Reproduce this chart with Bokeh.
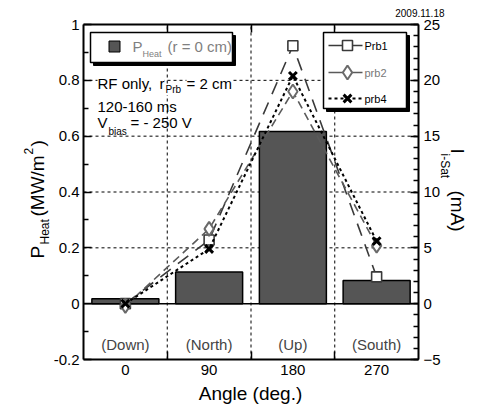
import math
from bokeh.plotting import figure
from bokeh.models import (Range1d, LinearAxis, FixedTicker, Label,
                          CustomJSTickFormatter)
from bokeh.embed import file_html
from bokeh.resources import INLINE

# ---------------- data ----------------
angles = [0, 90, 180, 270]
categories = ["(Down)", "(North)", "(Up)", "(South)"]
p_heat = [0.018, 0.113, 0.617, 0.083]          # MW/m^2
prb1 = [0.0, 5.7, 23.1, 2.4]                   # mA
prb2 = [-0.2, 6.7, 19.0, 5.2]                  # mA
prb4 = [0.0, 4.9, 20.4, 5.6]                   # mA
left_ticks = [-0.2, 0, 0.2, 0.4, 0.6, 0.8, 1]
right_ticks = [-5, 0, 5, 10, 15, 20, 25]
hgrid = [0.2, 0.4, 0.6, 0.8]
boundaries = [45, 135, 225]

FONT = "Liberation Sans"
W, H = 477, 407
# pixel box of the data region, and its data extent
L, R, T, B = 83, 418, 24, 359
X0, X1, Y0, Y1 = -45, 315, -0.2, 1.0
I0, I1 = -5, 25
SCALE = (I1 - I0) / (Y1 - Y0)


def dx(px):
    return X0 + (px - L) * (X1 - X0) / (R - L)


def dy(py):
    return Y1 - (py - T) * (Y1 - Y0) / (B - T)


# the frame covers the whole canvas; axes are pinned at the data box edges
p = figure(width=W, height=H, x_range=Range1d(dx(0), dx(W)),
           y_range=Range1d(dy(H), dy(0)),
           output_backend="svg", toolbar_location=None, title=None,
           min_border=0, x_axis_type=None, y_axis_type=None)
p.extra_y_ranges = {"isat": Range1d(dy(H) * SCALE, dy(0) * SCALE)}
p.outline_line_color = None
p.background_fill_color = "white"
p.border_fill_color = "white"
p.xgrid.visible = False
p.ygrid.visible = False

# dashed grid and zero line
p.segment(x0=boundaries, x1=boundaries, y0=Y0, y1=Y1, line_color="black",
          line_dash="3 3", line_width=1)
p.segment(x0=X0, x1=X1, y0=hgrid, y1=hgrid, line_color="black",
          line_dash="3 3", line_width=1)
p.segment(x0=[X0], x1=[X1], y0=[0], y1=[0], line_color="black", line_width=1.5)


def style_axis(ax):
    ax.axis_line_width = 2
    ax.axis_line_color = "black"
    ax.major_label_text_font = FONT
    ax.major_label_text_font_size = "15px"
    ax.major_label_text_color = "black"
    ax.major_tick_line_color = "black"
    ax.minor_tick_line_color = "black"
    ax.major_tick_line_width = 1.5
    ax.minor_tick_line_width = 1.5
    ax.major_tick_out = 0
    ax.minor_tick_out = 0


# bottom axis
xa = LinearAxis(ticker=FixedTicker(ticks=angles, minor_ticks=boundaries),
                fixed_location=Y0, bounds=(X0, X1))
style_axis(xa)
xa.major_tick_in = 0
xa.minor_tick_in = 8
xa.major_label_standoff = 5
p.add_layout(xa, "below")

# top axis (tick marks only)
ta = LinearAxis(ticker=FixedTicker(ticks=[], minor_ticks=boundaries),
                fixed_location=Y1, bounds=(X0, X1))
style_axis(ta)
ta.minor_tick_in = 8
p.add_layout(ta, "above")

# left axis
ya = LinearAxis(ticker=FixedTicker(ticks=left_ticks,
                                   minor_ticks=[-0.1, 0.1, 0.3, 0.5, 0.7, 0.9]),
                fixed_location=X0, bounds=(Y0, Y1))
ya.formatter = CustomJSTickFormatter(code="return String(tick)")
style_axis(ya)
ya.major_tick_in = 8
ya.minor_tick_in = 5
ya.major_label_standoff = 4
p.add_layout(ya, "left")

# right axis
ra = LinearAxis(y_range_name="isat",
                ticker=FixedTicker(ticks=right_ticks,
                                   minor_ticks=list(range(I0, I1 + 1))),
                fixed_location=X1, bounds=(I0, I1))
style_axis(ra)
ra.major_tick_in = 8
ra.minor_tick_in = 5
ra.major_label_standoff = 5
p.add_layout(ra, "right")

# bars
p.vbar(x=angles, top=p_heat, bottom=0, width=72, fill_color="#555555",
       line_color="black", line_width=1.5)

# probe series
series = [
    (prb1, "#3a3a3a", "13 9", 1.6, "square", 10, "#3a3a3a", 1.6),
    (prb2, "#5a5a5a", "8 5", 1.6, "diamond", 14, "#6a6a6a", 2.0),
    (prb4, "black", "3 3", 2.0, "x", 11, "black", 3.0),
]
for vals, col, dash, lw, mk, ms, mcol, mlw in series:
    p.line(angles, vals, y_range_name="isat", line_color=col, line_dash=dash,
           line_width=lw)
    p.scatter(angles, vals, y_range_name="isat", marker=mk, size=ms,
              fill_color="white", line_color=mcol, line_width=mlw)


# ---------------- legends and texts (decorations) ----------------
def box(x0, y0, x1, y1):
    p.quad(left=dx(x0 + 3), right=dx(x1 + 3), top=dy(y0 + 3), bottom=dy(y1 + 3),
           fill_color="black", line_color="black")
    p.quad(left=dx(x0), right=dx(x1), top=dy(y0), bottom=dy(y1),
           fill_color="white", line_color="black", line_width=1.5)


def lab(text, px, py, size, color="black", align="left", base="middle",
        angle=0.0, bg=None):
    p.add_layout(Label(x=dx(px), y=dy(py), text=text, text_font=FONT,
                       text_font_size=f"{size}px", text_color=color,
                       text_align=align, text_baseline=base, angle=angle,
                       background_fill_color=bg))


# legend 1
box(90, 32, 232, 62)
p.scatter([dx(114)], [dy(46)], marker="square", size=11,
          fill_color="#555555", line_color="black", line_width=1)
lab("P", 132, 46, 15, color="#808080")
lab("Heat", 142, 53, 9, color="#808080")
lab("(r = 0 cm)", 167, 46, 15, color="#808080")

# legend 2
box(323, 32, 406, 108)
rows = [("Prb1", 45, "black"), ("prb2", 72, "#777777"), ("prb4", 98, "black")]
for (name, ry, tcol), (vals, col, dash, lw, mk, ms, mcol, mlw) in zip(rows, series):
    p.line([dx(328), dx(362)], [dy(ry), dy(ry)], line_color=col,
           line_dash=dash if mk == "x" else "solid", line_width=lw)
    p.scatter([dx(347)], [dy(ry)], marker=mk, size=ms, fill_color="white",
              line_color=mcol, line_width=mlw)
    lab(name, 364, ry, 11, color=tcol)

# condition text
lab("RF only,\u00a0\u00a0", 97, 83, 15, bg="white")
lab("r", 159, 83, 15, bg="white")
lab("Prb", 165, 89, 10, bg="white")
lab("= 2 cm", 186, 83, 15, bg="white")
lab("120-160 ms", 97, 106, 15)
lab("V", 97, 122, 15)
lab("bias", 108, 131, 10)
lab("= - 250 V", 130, 122, 15)

# category labels
for a, c in zip(angles, categories):
    p.add_layout(Label(x=a, y=dy(344), text=c, text_font=FONT,
                       text_font_size="15px", text_align="center",
                       text_baseline="middle"))

# date
lab("2009.11.18", 444, 12, 10, align="right")

# axis titles
lab("Angle (deg.)", 250, 393, 19, align="center")
up = math.pi / 2
lab("P", 37, 258, 19, align="left", base="alphabetic", angle=up)
lab("Heat", 44, 244, 12, align="left", base="alphabetic", angle=up)
lab("(MW/m", 37, 216, 19, align="left", base="alphabetic", angle=up)
lab("2", 28, 154, 12, align="left", base="alphabetic", angle=up)
lab(")", 37, 146, 19, align="left", base="alphabetic", angle=up)

dn = -math.pi / 2
lab("I", 457, 148, 19, align="left", base="alphabetic", angle=dn)
lab("i-Sat", 444, 153, 12, align="left", base="alphabetic", angle=dn)
lab("(mA)", 457, 190, 19, align="left", base="alphabetic", angle=dn)

open("out.html", "w").write(file_html(p, INLINE))
